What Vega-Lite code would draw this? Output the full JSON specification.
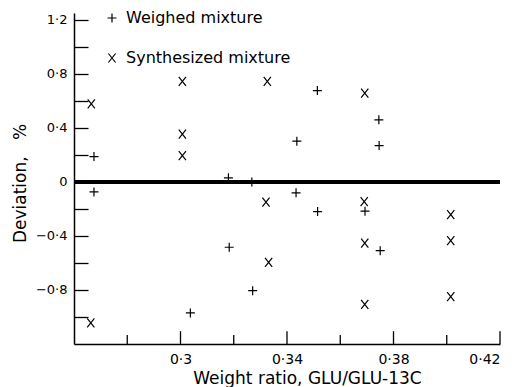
{
  "$schema": "https://vega.github.io/schema/vega-lite/v6.json",
  "width": 426,
  "height": 331,
  "autosize": {"type": "none"},
  "padding": {"left": 74, "top": 13, "right": 22, "bottom": 43},
  "background": "white",
  "config": {
    "view": {"stroke": null},
    "font": "DejaVu Sans",
    "axis": {
      "grid": false,
      "domainColor": "black",
      "domainWidth": 1.5,
      "tickColor": "black",
      "tickWidth": 1.3,
      "labelColor": "black",
      "titleColor": "black",
      "labelFont": "DejaVu Sans",
      "titleFont": "DejaVu Sans",
      "titleFontWeight": "normal"
    }
  },
  "datasets": {
    "pts": [
      {"x": 0.2675, "y": -0.074, "series": "Weighed mixture"},
      {"x": 0.2675, "y": 0.187, "series": "Weighed mixture"},
      {"x": 0.318, "y": 0.03, "series": "Weighed mixture"},
      {"x": 0.3268, "y": 0.0, "series": "Weighed mixture"},
      {"x": 0.3514, "y": 0.676, "series": "Weighed mixture"},
      {"x": 0.3437, "y": 0.301, "series": "Weighed mixture"},
      {"x": 0.3745, "y": 0.459, "series": "Weighed mixture"},
      {"x": 0.3746, "y": 0.269, "series": "Weighed mixture"},
      {"x": 0.3434, "y": -0.081, "series": "Weighed mixture"},
      {"x": 0.3515, "y": -0.22, "series": "Weighed mixture"},
      {"x": 0.3693, "y": -0.217, "series": "Weighed mixture"},
      {"x": 0.375, "y": -0.509, "series": "Weighed mixture"},
      {"x": 0.3183, "y": -0.484, "series": "Weighed mixture"},
      {"x": 0.3271, "y": -0.805, "series": "Weighed mixture"},
      {"x": 0.3037, "y": -0.97, "series": "Weighed mixture"},
      {"x": 0.2665, "y": 0.578, "series": "Synthesized mixture"},
      {"x": 0.3007, "y": 0.743, "series": "Synthesized mixture"},
      {"x": 0.3007, "y": 0.353, "series": "Synthesized mixture"},
      {"x": 0.3007, "y": 0.195, "series": "Synthesized mixture"},
      {"x": 0.3326, "y": 0.743, "series": "Synthesized mixture"},
      {"x": 0.3692, "y": 0.657, "series": "Synthesized mixture"},
      {"x": 0.3321, "y": -0.15, "series": "Synthesized mixture"},
      {"x": 0.3331, "y": -0.595, "series": "Synthesized mixture"},
      {"x": 0.2663, "y": -1.044, "series": "Synthesized mixture"},
      {"x": 0.369, "y": -0.146, "series": "Synthesized mixture"},
      {"x": 0.3692, "y": -0.454, "series": "Synthesized mixture"},
      {"x": 0.3692, "y": -0.906, "series": "Synthesized mixture"},
      {"x": 0.4015, "y": -0.242, "series": "Synthesized mixture"},
      {"x": 0.4015, "y": -0.435, "series": "Synthesized mixture"},
      {"x": 0.4015, "y": -0.85, "series": "Synthesized mixture"}
    ],
    "xticks": [
      {"v": 0.28, "major": false},
      {"v": 0.3, "major": true},
      {"v": 0.32, "major": false},
      {"v": 0.34, "major": true},
      {"v": 0.36, "major": false},
      {"v": 0.38, "major": true},
      {"v": 0.4, "major": false},
      {"v": 0.42, "major": true}
    ]
  },
  "data": {"name": "pts"},
  "resolve": {"axis": {"x": "independent", "y": "independent"}},
  "layer": [
    {
      "data": {"name": "xticks"},
      "transform": [{"filter": "datum.major"}],
      "mark": {"type": "rule", "color": "black", "strokeWidth": 1.3},
      "encoding": {
        "x": {"field": "v", "type": "quantitative", "scale": {"domain": [0.26, 0.42], "nice": false, "zero": false}, "axis": null},
        "y": {"datum": -1.2, "type": "quantitative", "scale": {"domain": [-1.2, 1.25], "nice": false, "zero": false}, "axis": null},
        "y2": {"datum": -1.105}
      }
    },
    {
      "data": {"name": "xticks"},
      "transform": [{"filter": "!datum.major"}],
      "mark": {"type": "rule", "color": "black", "strokeWidth": 1.3},
      "encoding": {
        "x": {"field": "v", "type": "quantitative", "axis": null},
        "y": {"datum": -1.2, "type": "quantitative", "axis": null},
        "y2": {"datum": -1.134}
      }
    },
    {
      "mark": {"type": "rule", "color": "black", "strokeWidth": 2.6},
      "encoding": {
        "x": {
          "datum": 0.26,
          "type": "quantitative",
          "scale": {"domain": [0.26, 0.42], "nice": false, "zero": false},
          "axis": {
            "orient": "bottom",
            "values": [0.3, 0.34, 0.38, 0.42],
            "ticks": false,
            "labelPadding": 8,
            "labelFontSize": 14,
            "labelExpr": "replace(toString(datum.value), '.', '·')",
            "title": "Weight ratio, GLU/GLU-13C",
            "titleFontSize": 17,
            "titleX": 233,
            "titleY": 39,
            "titleAlign": "center",
            "titleBaseline": "alphabetic"
          }
        },
        "x2": {"datum": 0.42},
        "y": {
          "datum": 0,
          "type": "quantitative",
          "scale": {"domain": [-1.2, 1.25], "nice": false, "zero": false},
          "axis": {
            "orient": "right",
            "offset": -426,
            "values": [-1.0, -0.8, -0.6, -0.4, -0.2, 0, 0.2, 0.4, 0.6, 0.8, 1.0, 1.2],
            "tickSize": 14,
            "labels": false,
            "domain": false,
            "title": null
          }
        }
      }
    },
    {
      "mark": {"type": "point", "filled": false, "color": "black", "stroke": "black", "strokeWidth": 1.2, "opacity": 1, "size": 81},
      "encoding": {
        "x": {
          "field": "x",
          "type": "quantitative",
          "scale": {"domain": [0.26, 0.42], "nice": false, "zero": false},
          "axis": null
        },
        "y": {
          "field": "y",
          "type": "quantitative",
          "scale": {"domain": [-1.2, 1.25], "nice": false, "zero": false},
          "axis": {
            "values": [-0.8, -0.4, 0, 0.4, 0.8, 1.2],
            "ticks": false,
            "labelPadding": 7,
            "labelFontSize": 13,
            "labelExpr": "datum.value == 0 ? '0' : replace(format(datum.value, '.1f'), '.', '·')",
            "title": "Deviation,\u00a0\u00a0\u00a0%",
            "titleFontSize": 17,
            "titleX": -49,
            "titleY": 170,
            "titleAlign": "center",
            "titleBaseline": "alphabetic",
            "titleAngle": -90
          }
        },
        "shape": {
          "field": "series",
          "type": "nominal",
          "scale": {
            "domain": ["Weighed mixture", "Synthesized mixture"],
            "range": ["M-1,0L1,0M0,-1L0,1", "M-0.8,-1L0.8,1M-0.8,1L0.8,-1"]
          },
          "legend": {
            "title": null,
            "orient": "none",
            "legendX": 30,
            "legendY": -3,
            "padding": 0,
            "rowPadding": 24,
            "labelFontSize": 16,
            "labelFont": "DejaVu Sans",
            "labelColor": "black",
            "labelOffset": 6,
            "labelLimit": 400,
            "symbolSize": 81,
            "symbolStrokeColor": "black",
            "symbolStrokeWidth": 1.2,
            "symbolFillColor": "transparent"
          }
        }
      }
    }
  ]
}
